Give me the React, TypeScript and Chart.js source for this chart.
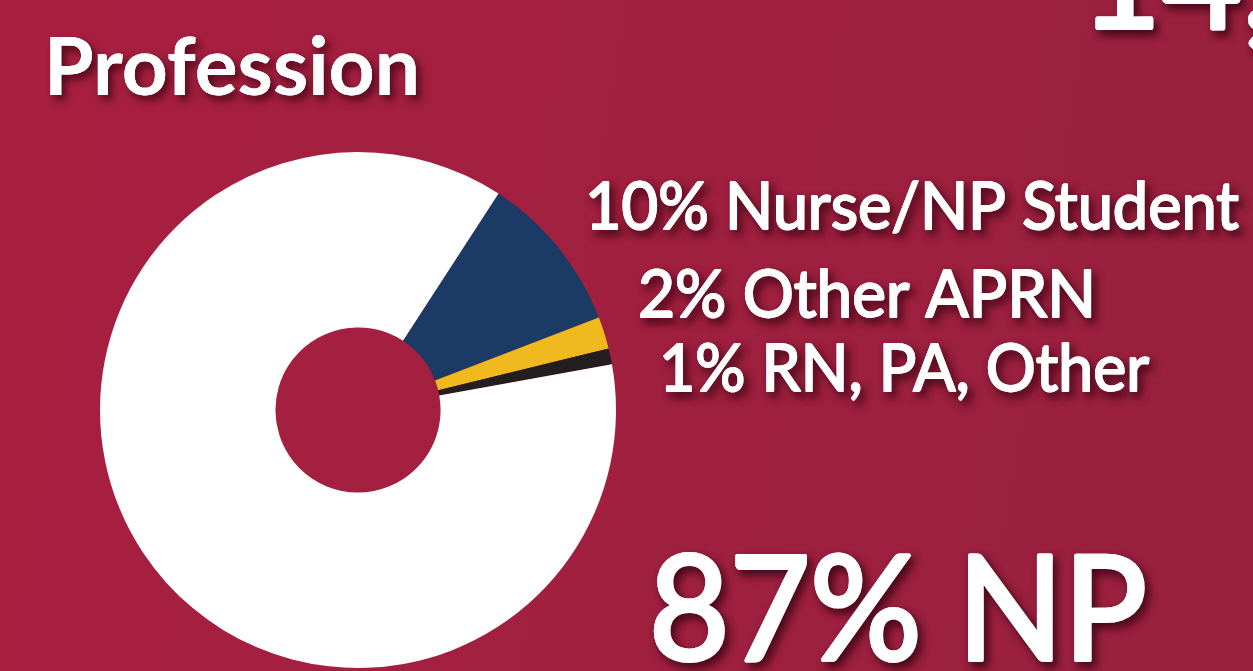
import React, { useEffect, useRef } from "react";
import { Chart, registerables } from "chart.js";

Chart.register(...registerables);

const categories = ["Nurse/NP Student", "Other APRN", "RN, PA, Other", "NP"];
const shares = [10, 2, 1, 87];
const sliceColors = ["#1B3A66", "#F0B91E", "#231F20", "#FFFFFF"];
const chartTitle = "Profession";
const cornerText = "14,000";

const FONT = "Lato, 'Open Sans', sans-serif";

const bgPlugin = {
  id: "bg",
  beforeDraw(chart: any) {
    const { ctx, width, height } = chart;
    ctx.save();
    const g = ctx.createLinearGradient(0, 0, width, height * 0.3);
    g.addColorStop(0, "#A91F40");
    g.addColorStop(1, "#99203F");
    ctx.fillStyle = g;
    ctx.fillRect(0, 0, width, height);
    ctx.restore();
  },
};

const textPlugin = {
  id: "texts",
  afterDraw(chart: any) {
    const { ctx } = chart;
    ctx.save();
    ctx.fillStyle = "#FFFFFF";
    ctx.strokeStyle = "#FFFFFF";
    ctx.lineJoin = "round";
    ctx.textBaseline = "alphabetic";
    ctx.textAlign = "left";

    const shadowOn = () => {
      ctx.shadowColor = "rgba(45,0,15,0.75)";
      ctx.shadowBlur = 9;
      ctx.shadowOffsetX = 4;
      ctx.shadowOffsetY = 5;
    };
    const shadowOff = () => {
      ctx.shadowColor = "rgba(0,0,0,0)";
      ctx.shadowBlur = 0;
      ctx.shadowOffsetX = 0;
      ctx.shadowOffsetY = 0;
    };

    const draw = (
      t: string,
      x: number,
      y: number,
      size: number,
      weight: string,
      w?: number,
      stroke = 0
    ) => {
      ctx.font = `${weight} ${size}px ${FONT}`;
      ctx.save();
      ctx.translate(x, y);
      if (w) {
        const m = ctx.measureText(t).width;
        ctx.scale(w / m, 1);
      }
      shadowOn();
      if (stroke) {
        ctx.lineWidth = stroke;
        ctx.strokeText(t, 0, 0);
      }
      ctx.fillText(t, 0, 0);
      shadowOff();
      if (stroke) ctx.strokeText(t, 0, 0);
      ctx.fillText(t, 0, 0);
      ctx.restore();
    };

    draw(chartTitle, 44, 95, 80, "bold", 376);
    draw(cornerText, 1080, 28, 140, "normal", undefined, 4);

    const lbl = (i: number) => `${shares[i]}% ${categories[i]}`;
    draw(lbl(0), 585, 229, 65, "normal", 654, 1.8);
    draw(lbl(1), 638, 317, 65, "normal", 458, 1.8);
    draw(lbl(2), 659, 391, 65, "normal", 490, 1.8);
    draw(lbl(3), 649, 660, 145, "normal", 498, 4);
    ctx.restore();
  },
};

export default function App() {
  const ref = useRef<HTMLCanvasElement | null>(null);
  useEffect(() => {
    document.body.style.margin = "0";
    const chart = new Chart(ref.current!, {
      type: "doughnut",
      data: {
        labels: categories,
        datasets: [
          {
            data: shares,
            backgroundColor: sliceColors,
            borderWidth: 0,
          },
        ],
      },
      options: {
        animation: false,
        responsive: false,
        rotation: 33,
        cutout: "32%",
        layout: { padding: { left: 100, right: 637, top: 152, bottom: 3 } },
        plugins: {
          legend: { display: false },
          tooltip: { enabled: false },
          title: { display: false },
        },
      },
      plugins: [bgPlugin, textPlugin],
    });
    return () => chart.destroy();
  }, []);
  return (
    <div style={{ width: 1253, height: 671, overflow: "hidden" }}>
      <canvas ref={ref} width={1253} height={671} style={{ display: "block" }} />
    </div>
  );
}
